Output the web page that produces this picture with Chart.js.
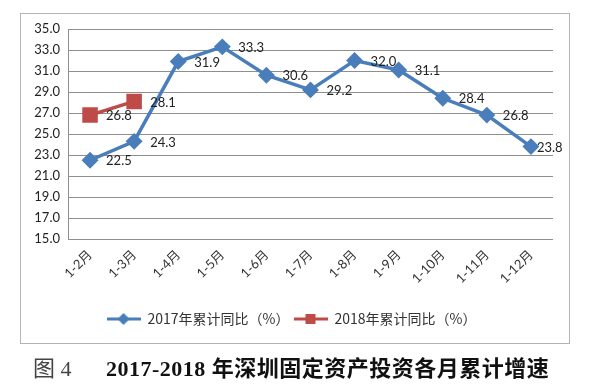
<!DOCTYPE html>
<html>
<head>
<meta charset="utf-8">
<script src="https://cdn.jsdelivr.net/npm/chart.js@4"></script>
<style>
  body { margin: 0; background: #fff; }
  #wrap { position: relative; width: 593px; height: 389px; }
  #chart { position: absolute; left: 0; top: 0; }
  #caption { position: absolute; left: 33px; top: 350px; white-space: nowrap; font-size: 22px; }
  #caption .fig { font-family: "Liberation Serif", "Noto Sans CJK SC", serif; color: #444; }
  #caption .main { position: absolute; left: 73px; top: 0; font-family: "Liberation Serif", "Noto Sans CJK SC", serif; font-weight: bold; color: #111; letter-spacing: 0.5px; }
</style>
</head>
<body>
<div id="wrap">
  <canvas id="chart" width="593" height="389"></canvas>
  <div id="caption"><span class="fig">图 4</span><span class="main">2017-2018 年深圳固定资产投资各月累计增速</span></div>
</div>
<script>
// data
const months = ["1-2月", "1-3月", "1-4月", "1-5月", "1-6月", "1-7月", "1-8月", "1-9月", "1-10月", "1-11月", "1-12月"];
const growth2017 = [22.5, 24.3, 31.9, 33.3, 30.6, 29.2, 32.0, 31.1, 28.4, 26.8, 23.8];
const growth2018 = [26.8, 28.1];
const seriesNames = ["2017年累计同比（%）", "2018年累计同比（%）"];

const BLUE = "#4a7ebb";
const RED = "#be4b48";

// little line+marker icon for the legend
function legendIcon(color, shape) {
  const c = document.createElement("canvas");
  c.width = 34; c.height = 14;
  const ctx = c.getContext("2d");
  ctx.strokeStyle = color;
  ctx.lineWidth = 3;
  ctx.beginPath(); ctx.moveTo(0, 7); ctx.lineTo(34, 7); ctx.stroke();
  ctx.fillStyle = color;
  ctx.beginPath();
  if (shape === "diamond") {
    ctx.moveTo(17, 1); ctx.lineTo(23, 7); ctx.lineTo(17, 13); ctx.lineTo(11, 7);
  } else {
    ctx.rect(12, 2, 10, 10);
  }
  ctx.closePath(); ctx.fill();
  return c;
}

// value labels to the right of each point
const valueLabels = {
  id: "valueLabels",
  afterDatasetsDraw(chart) {
    const ctx = chart.ctx;
    ctx.save();
    ctx.font = "13px Lato, 'Open Sans', sans-serif";
    ctx.fillStyle = "#222";
    ctx.textAlign = "left";
    ctx.textBaseline = "middle";
    chart.data.datasets.forEach((ds, i) => {
      const meta = chart.getDatasetMeta(i);
      meta.data.forEach((pt, j) => {
        const last = i === 0 && j === ds.data.length - 1;
        ctx.fillText(ds.data[j].toFixed(1), pt.x + (last ? 6 : 16), pt.y + 1);
      });
    });
    ctx.restore();
  }
};

// grey frame round the chart
const frame = {
  id: "frame",
  beforeDraw(chart) {
    const ctx = chart.ctx;
    ctx.save();
    ctx.fillStyle = "#fff";
    ctx.fillRect(0, 0, chart.width, chart.height);
    ctx.strokeStyle = "#b4b4b4";
    ctx.lineWidth = 1;
    ctx.strokeRect(20.5, 13.5, 549, 330);
    ctx.restore();
  }
};

const icons = [legendIcon(BLUE, "diamond"), legendIcon(RED, "square")];

new Chart(document.getElementById("chart"), {
  type: "line",
  data: {
    labels: months,
    datasets: [
      {
        label: seriesNames[0], data: growth2017, borderColor: BLUE, backgroundColor: BLUE,
        borderWidth: 3.5, pointStyle: "rectRot", pointRadius: 6, pointHoverRadius: 6, tension: 0
      },
      {
        label: seriesNames[1], data: growth2018, borderColor: RED, backgroundColor: RED,
        borderWidth: 3.5, pointStyle: "rect", pointRadius: 8.5, pointHoverRadius: 8.5, tension: 0
      }
    ]
  },
  options: {
    responsive: false,
    animation: false,
    layout: { padding: { left: 30, top: 29, right: 40, bottom: 53 } },
    plugins: {
      legend: {
        position: "bottom",
        labels: {
          usePointStyle: true,
          pointStyleWidth: 34,
          padding: 4,
          color: "#333",
          font: { family: "'Noto Sans CJK SC', sans-serif", size: 14 },
          generateLabels(chart) {
            return chart.data.datasets.map((ds, i) => ({
              text: ds.label, pointStyle: icons[i], datasetIndex: i,
              fillStyle: ds.borderColor, strokeStyle: ds.borderColor, lineWidth: 0, fontColor: "#333"
            }));
          }
        }
      },
      tooltip: { enabled: false }
    },
    scales: {
      x: {
        offset: true,
        grid: { display: false, drawTicks: false },
        border: { display: false },
        ticks: {
          color: "#333", minRotation: 45, maxRotation: 45, padding: 8,
          font: { family: "Lato, 'Noto Sans CJK SC', sans-serif", size: 13 }
        },
        afterFit(s) { s.height = 69; }
      },
      y: {
        min: 15, max: 35,
        grid: { color: "#8e8e8e", lineWidth: 1, drawTicks: false },
        border: { display: true, color: "#8e8e8e" },
        ticks: {
          stepSize: 2, color: "#222", padding: 8,
          font: { family: "Lato, sans-serif", size: 13 },
          callback: v => v.toFixed(1)
        },
        afterFit(s) { s.width = 38; }
      }
    }
  },
  plugins: [frame, valueLabels]
});
</script>
</body>
</html>
